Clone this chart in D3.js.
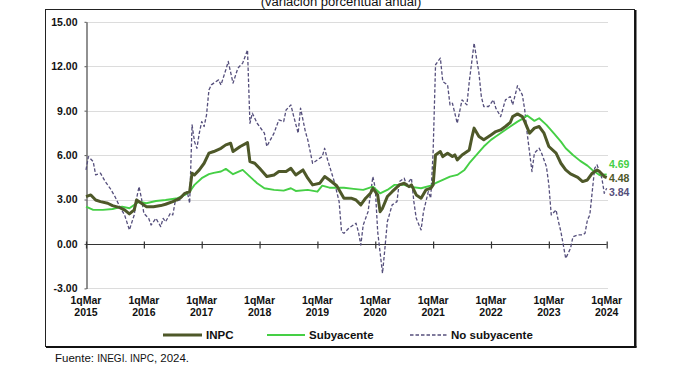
<!DOCTYPE html>
<html>
<head>
<meta charset="utf-8">
<script src="https://cdn.jsdelivr.net/npm/d3@7"></script>
<style>
  body { margin: 0; background: #fff; }
  svg { display: block; font-family: Arial, "Liberation Sans", sans-serif; }
</style>
</head>
<body>
<div id="root"></div>
<script>
// quincenas counted from 1q Mar 2015 (0) to 1q Mar 2024 (216)
const years = [2015, 2016, 2017, 2018, 2019, 2020, 2021, 2022, 2023, 2024];
const yTicks = [-3, 0, 3, 6, 9, 12, 15];

const inpcQ = [0, 2, 4, 6, 9, 11, 14, 16, 18, 20, 21, 23, 25, 28, 31, 33, 36, 39, 41, 43, 44, 45, 47, 49, 51, 53, 56, 58, 60, 61, 64, 67, 68, 70, 72, 75, 78, 80, 83, 85, 87, 90, 92, 94, 97, 99, 101, 104, 107, 110, 112, 114, 116, 118, 119, 121, 122, 123, 125, 127, 130, 132, 134, 135, 137, 139, 141, 143, 144, 145, 147, 148, 150, 152, 153, 154, 156, 159, 160, 161, 163, 165, 168, 170, 172, 174, 176, 177, 179, 181, 182, 184, 186, 188, 190, 192, 195, 197, 199, 201, 204, 206, 208, 210, 212, 213, 215, 216];
const inpcV = [3.2, 3.31, 2.97, 2.86, 2.75, 2.59, 2.45, 2.3, 2.03, 2.3, 2.97, 2.75, 2.52, 2.52, 2.59, 2.68, 2.86, 3.09, 3.42, 3.53, 4.78, 4.66, 5.0, 5.45, 6.13, 6.24, 6.46, 6.69, 6.8, 6.24, 6.58, 6.84, 5.56, 5.45, 5.11, 4.55, 4.66, 4.89, 4.89, 5.11, 4.66, 5.0, 4.44, 3.99, 4.1, 4.55, 4.32, 3.93, 3.09, 3.09, 2.97, 2.64, 3.09, 3.42, 3.76, 3.31, 2.18, 2.41, 3.2, 3.53, 3.99, 4.1, 3.87, 3.99, 3.31, 3.09, 3.65, 3.76, 3.99, 6.01, 6.24, 5.9, 6.13, 5.9, 6.01, 5.68, 6.01, 6.35, 7.14, 7.82, 7.25, 7.03, 7.36, 7.59, 7.7, 7.93, 8.2, 8.6, 8.78, 8.6, 8.26, 7.48, 7.82, 7.93, 7.48, 6.58, 6.13, 5.45, 5.0, 4.73, 4.5, 4.21, 4.32, 4.78, 5.0, 4.89, 4.55, 4.48];

const coreQ = [0, 3, 7, 11, 15, 18, 22, 25, 29, 33, 38, 41, 43, 45, 48, 51, 53, 56, 58, 61, 65, 68, 71, 74, 78, 82, 85, 87, 92, 96, 98, 101, 107, 111, 115, 119, 122, 125, 128, 132, 134, 139, 143, 145, 148, 151, 154, 157, 159, 162, 165, 168, 170, 173, 176, 179, 181, 183, 186, 188, 191, 194, 197, 199, 202, 205, 208, 210, 213, 216];
const coreV = [2.52, 2.3, 2.3, 2.36, 2.52, 2.41, 2.86, 2.75, 2.9, 2.97, 3.09, 3.31, 3.53, 3.99, 4.44, 4.71, 4.8, 4.89, 5.07, 4.71, 5.0, 4.55, 4.1, 3.76, 3.65, 3.6, 3.76, 3.58, 3.65, 3.53, 3.94, 3.8, 3.8, 3.72, 3.65, 3.87, 3.42, 3.65, 3.99, 3.99, 3.87, 3.76, 3.94, 4.1, 4.32, 4.55, 4.66, 5.0, 5.45, 6.01, 6.58, 7.03, 7.25, 7.59, 7.93, 8.26, 8.45, 8.67, 8.31, 8.49, 8.04, 7.48, 6.91, 6.46, 6.01, 5.61, 5.29, 5.0, 4.66, 4.69];

const noCoreQ = [0, 1, 3, 4, 6, 8, 10, 12, 14, 16, 18, 20, 21, 22, 23, 24, 26, 27, 29, 31, 32, 33, 35, 36, 37, 39, 41, 42, 43, 44, 45, 46, 47, 48, 49, 50, 51, 52, 53, 55, 56, 58, 59, 61, 63, 65, 67, 68, 69, 71, 74, 75, 78, 80, 82, 83, 85, 86, 88, 89, 91, 92, 94, 96, 98, 99, 100, 103, 105, 106, 107, 109, 112, 113, 114, 115, 117, 119, 120, 121, 123, 124, 125, 127, 129, 130, 132, 133, 135, 136, 137, 139, 140, 142, 143, 144, 145, 147, 148, 150, 151, 152, 154, 156, 158, 159, 161, 163, 164, 165, 167, 169, 170, 172, 174, 176, 177, 179, 181, 182, 183, 185, 186, 188, 189, 191, 192, 193, 195, 196, 197, 198, 199, 201, 202, 204, 206, 207, 208, 209, 210, 211, 212, 214, 215, 216];
const noCoreV = [5.0, 5.9, 5.56, 4.66, 4.78, 4.21, 3.76, 3.2, 2.52, 1.96, 0.95, 1.96, 3.09, 3.87, 3.09, 2.07, 1.73, 1.28, 1.73, 1.17, 1.73, 1.5, 2.07, 1.96, 2.86, 2.97, 3.42, 3.53, 2.75, 8.04, 6.91, 6.46, 7.48, 8.26, 7.93, 8.72, 10.4, 10.74, 10.86, 11.08, 10.74, 11.76, 12.32, 10.86, 11.87, 12.21, 13.1, 8.15, 8.83, 8.15, 7.48, 6.58, 7.48, 8.38, 8.26, 9.05, 9.39, 8.72, 7.48, 9.17, 7.59, 7.03, 5.45, 5.68, 5.9, 6.46, 5.8, 4.21, 2.86, 0.83, 0.72, 1.06, 1.4, 0.83, -0.07, 1.28, 2.18, 4.55, 3.76, 0.83, -1.98, -0.29, 1.5, 2.64, 2.86, 4.21, 4.44, 3.99, 4.44, 2.86, 1.73, 0.95, 2.18, 3.53, 3.09, 6.24, 12.1, 12.55, 10.97, 10.74, 9.39, 9.5, 8.15, 9.73, 9.39, 10.97, 13.56, 11.53, 9.95, 9.28, 9.28, 9.73, 9.17, 8.6, 9.73, 9.95, 9.39, 10.68, 10.07, 9.05, 7.48, 4.89, 6.13, 6.46, 6.13, 5.22, 4.0, 1.96, 2.3, 1.5, 0.83, -0.07, -0.97, -0.29, 0.49, 0.61, 0.61, 0.72, 1.62, 1.96, 3.53, 5.11, 5.34, 4.44, 3.42, 3.76, 3.84];

const series = [
  { name: "INPC", q: inpcQ, v: inpcV, color: "#4e5829", width: 3, dash: null },
  { name: "Subyacente", q: coreQ, v: coreV, color: "#45cf45", width: 1.9, dash: null },
  { name: "No subyacente", q: noCoreQ, v: noCoreV, color: "#554f7c", width: 1.3, dash: "3.5,2" },
];

const width = 680;
const height = 375;

const svg = d3
  .select("#root")
  .append("svg")
  .attr("width", width)
  .attr("height", height)
  .attr("viewBox", `0 0 ${width} ${height}`);

// title (cut at the top, as in the source image)
svg
  .append("text")
  .attr("x", 341)
  .attr("y", 6)
  .attr("text-anchor", "middle")
  .attr("font-size", 13)
  .attr("fill", "#111")
  .text("(variación porcentual anual)");

// frame
svg
  .append("rect")
  .attr("x", 45.5)
  .attr("y", 9.5)
  .attr("width", 589)
  .attr("height", 337)
  .attr("fill", "none")
  .attr("stroke", "#222")
  .attr("stroke-width", 1);
svg.append("line").attr("x1", 635.5).attr("x2", 635.5).attr("y1", 10).attr("y2", 347.5)
  .attr("stroke", "#111").attr("stroke-width", 2);
svg.append("line").attr("x1", 46).attr("x2", 636.5).attr("y1", 347).attr("y2", 347)
  .attr("stroke", "#111").attr("stroke-width", 2);

const x = d3.scaleLinear().domain([0, 216]).range([86, 606.7]);
const y = d3.scaleLinear().domain([-3, 15]).range([288.4, 21.8]);

// grid
svg
  .append("g")
  .selectAll("line")
  .data(yTicks.filter((d) => d !== 0))
  .join("line")
  .attr("x1", 86)
  .attr("x2", 608)
  .attr("y1", (d) => Math.round(y(d)) + 0.5)
  .attr("y2", (d) => Math.round(y(d)) + 0.5)
  .attr("stroke", "#dcdcdc")
  .attr("stroke-width", 1);

// y axis
const yAxis = svg
  .append("g")
  .attr("transform", "translate(86.5,0)")
  .call(
    d3.axisLeft(y)
      .tickValues(yTicks)
      .tickFormat((d) => d.toFixed(2))
      .tickSize(2)
      .tickSizeOuter(0)
  );
yAxis.select(".domain").attr("stroke", "#555").attr("stroke-width", 1.3);
yAxis.selectAll(".tick line").attr("stroke", "#555");
yAxis
  .selectAll(".tick text")
  .attr("x", -9)
  .attr("font-size", 10.5)
  .attr("font-weight", "bold")
  .attr("fill", "#111")
  .attr("font-family", "Arial, 'Liberation Sans', sans-serif");

// x axis on zero line
const xTickVals = years.map((d, i) => i * 24);
const xAxis = svg
  .append("g")
  .attr("transform", `translate(0,${Math.round(y(0)) + 0.5})`)
  .call(d3.axisBottom(x).tickValues(xTickVals).tickSize(3).tickSizeOuter(0).tickFormat(""));
xAxis.select(".domain").attr("stroke", "#333").attr("stroke-width", 1.2).attr("d", `M86,0H${x(216)}`);
xAxis.selectAll(".tick line").attr("y1", -3).attr("y2", 4).attr("stroke", "#333").attr("stroke-width", 1.2);

// x labels at bottom
const xl = svg
  .append("g")
  .selectAll("text")
  .data(years)
  .join("text")
  .attr("x", (d, i) => x(i * 24))
  .attr("y", 304)
  .attr("text-anchor", "middle")
  .attr("font-size", 10.5)
  .attr("font-weight", "bold")
  .attr("fill", "#111");
xl.append("tspan").attr("x", (d, i) => x(i * 24)).text("1qMar");
xl.append("tspan").attr("x", (d, i) => x(i * 24)).attr("dy", 12).text((d) => d);

// lines
const line = d3
  .line()
  .x((d) => x(d[0]))
  .y((d) => y(d[1]));

const drawOrder = [series[2], series[1], series[0]];
svg
  .append("g")
  .selectAll("path")
  .data(drawOrder)
  .join("path")
  .attr("d", (s) => line(d3.zip(s.q, s.v)))
  .attr("fill", "none")
  .attr("stroke", (s) => s.color)
  .attr("stroke-width", (s) => s.width)
  .attr("stroke-dasharray", (s) => s.dash)
  .attr("stroke-linejoin", "round");

// end labels
const endLabels = [
  { s: series[1], y: 168 },
  { s: series[0], y: 182 },
  { s: series[2], y: 196 },
];
svg
  .append("g")
  .selectAll("text")
  .data(endLabels)
  .join("text")
  .attr("x", 609)
  .attr("y", (d) => d.y)
  .attr("font-size", 10.5)
  .attr("font-weight", "bold")
  .attr("fill", (d) => d.s.color)
  .text((d) => d.s.v[d.s.v.length - 1].toFixed(2));

// legend
const legend = [
  { s: series[0], x1: 163, x2: 202 },
  { s: series[1], x1: 267, x2: 305 },
  { s: series[2], x1: 410, x2: 447 },
];
const lg = svg.append("g");
lg.selectAll("line")
  .data(legend)
  .join("line")
  .attr("x1", (d) => d.x1)
  .attr("x2", (d) => d.x2)
  .attr("y1", 335)
  .attr("y2", 335)
  .attr("stroke", (d) => d.s.color)
  .attr("stroke-width", (d) => d.s.width)
  .attr("stroke-dasharray", (d) => d.s.dash);
lg.selectAll("text")
  .data(legend)
  .join("text")
  .attr("x", (d) => d.x2 + 4)
  .attr("y", 339)
  .attr("font-size", 11.5)
  .attr("font-weight", "bold")
  .attr("fill", "#111")
  .text((d) => d.s.name);

// source
const src = svg
  .append("text")
  .attr("x", 55)
  .attr("y", 362)
  .attr("font-size", 11.5)
  .attr("fill", "#111");
src.append("tspan").text("Fuente: ");
src.append("tspan").attr("font-size", 10).text("INEGI. INPC");
src.append("tspan").text(", 2024.");
</script>
</body>
</html>
